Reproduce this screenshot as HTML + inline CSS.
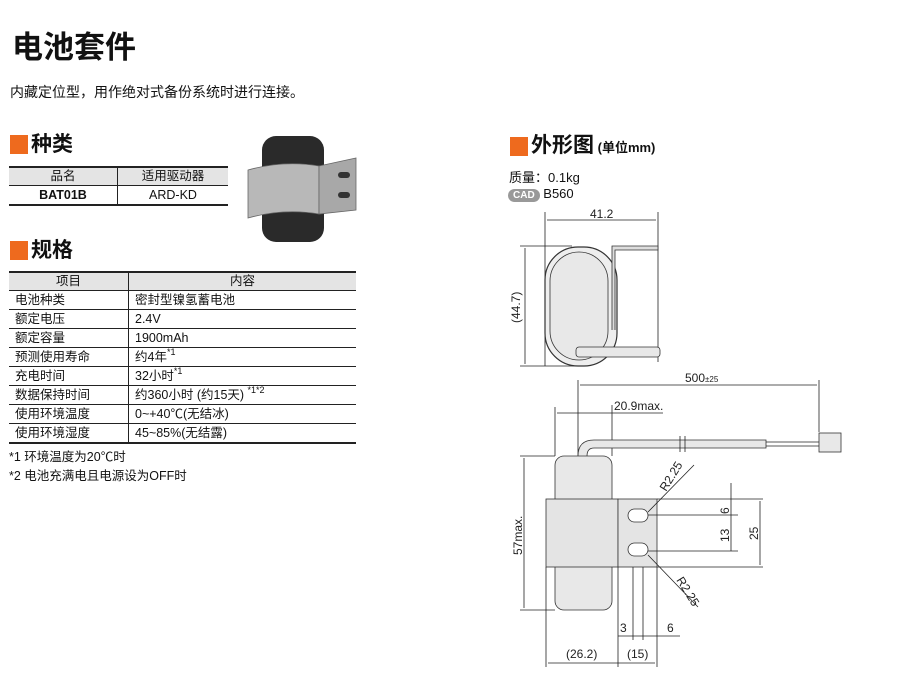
<!DOCTYPE html>
<html><head><meta charset="utf-8"><style>
body{margin:0;width:900px;height:700px;background:#fff;position:relative;font-family:"Liberation Sans","Noto Sans CJK SC",sans-serif;color:#111;overflow:hidden}
.a{position:absolute;white-space:nowrap}
.h{font-size:21px;font-weight:bold;line-height:22px}
.sq{position:absolute;width:18px;height:19px;background:#ee6a1e}
table{position:absolute;border-collapse:collapse;font-size:12.5px}
td{height:18px;padding:0 0 0 6px;line-height:18px;border-bottom:1px solid #222;overflow:hidden}
th{background:#e4e4e4;font-weight:normal;height:17px;line-height:17px;border-bottom:1px solid #222;border-top:2px solid #222;padding:0}
.s{font-size:9px;line-height:0;vertical-align:6px}
</style></head><body>
<div class="a" style="left:12px;top:22px;font-size:31px;font-weight:bold;">电池套件</div>
<div class="a" style="left:10px;top:82px;font-size:14px;">内藏定位型，用作绝对式备份系统时进行连接。</div>

<div class="sq" style="left:10px;top:135px"></div><div class="a h" style="left:31px;top:134px">种类</div>
<table style="left:9px;top:166px;width:219px">
<tr><th style="width:108px;border-right:1px solid #222">品名</th><th>适用驱动器</th></tr>
<tr><td style="text-align:center;font-weight:bold;padding:0;border-right:1px solid #222;border-bottom:2px solid #222">BAT01B</td><td style="text-align:center;padding:0;border-bottom:2px solid #222">ARD-KD</td></tr>
</table>
<svg class="a" style="left:244px;top:132px" width="115" height="115">
<rect x="18" y="4" width="62" height="106" rx="14" fill="#2a2a2a"/>
<path d="M4 38 Q40 28 75 34 L75 82 Q40 76 4 86 Z" fill="#b8b8b8" stroke="#666" stroke-width="0.8"/>
<path d="M75 34 L112 26 L112 78 L75 82Z" fill="#a8a8a8" stroke="#666" stroke-width="0.8"/>
<rect x="94" y="40" width="12" height="6" rx="3" fill="#333"/><rect x="94" y="60" width="12" height="6" rx="3" fill="#333"/>
</svg>

<div class="sq" style="left:10px;top:241px"></div><div class="a h" style="left:31px;top:240px">规格</div>
<table style="left:9px;top:271px;width:347px">
<tr><th style="width:119px;border-right:1px solid #222">项目</th><th>内容</th></tr>
<tr><td style="border-right:1px solid #222">电池种类</td><td>密封型镍氢蓄电池</td></tr>
<tr><td style="border-right:1px solid #222">额定电压</td><td>2.4V</td></tr>
<tr><td style="border-right:1px solid #222">额定容量</td><td>1900mAh</td></tr>
<tr><td style="border-right:1px solid #222">预测使用寿命</td><td>约4年<span class="s">*1</span></td></tr>
<tr><td style="border-right:1px solid #222">充电时间</td><td>32小时<span class="s">*1</span></td></tr>
<tr><td style="border-right:1px solid #222">数据保持时间</td><td>约360小时 (约15天) <span class="s">*1*2</span></td></tr>
<tr><td style="border-right:1px solid #222">使用环境温度</td><td>0~+40℃(无结冰)</td></tr>
<tr><td style="border-right:1px solid #222;border-bottom:2px solid #222">使用环境湿度</td><td style="border-bottom:2px solid #222">45~85%(无结露)</td></tr>
</table>
<div class="a" style="left:9px;top:446px;font-size:12.5px">*1 环境温度为20℃时</div>
<div class="a" style="left:9px;top:465px;font-size:12.5px">*2 电池充满电且电源设为OFF时</div>

<div class="sq" style="left:510px;top:137px"></div><div class="a h" style="left:531px;top:135px">外形图<span style="font-size:13px;font-weight:bold"> (单位mm)</span></div>
<div class="a" style="left:509px;top:167px;font-size:13px">质量：0.1kg</div>
<div class="a" style="left:508px;top:186px;font-size:13px"><span style="display:inline-block;background:#999;color:#fff;font-weight:bold;font-size:10px;border-radius:8px;padding:0 5px;line-height:13px">CAD</span> B560</div>

<svg class="a" style="left:0;top:0" width="900" height="700" font-family="Liberation Sans" font-size="12" fill="none" stroke="#222" stroke-width="0.8">
<line x1="545" y1="212" x2="545" y2="366"/><line x1="658" y1="212" x2="658" y2="362"/>
<line x1="547" y1="220" x2="656" y2="220"/>
<text x="590" y="218" fill="#222" stroke="none">41.2</text>
<line x1="520" y1="246" x2="572" y2="246"/><line x1="520" y1="366" x2="580" y2="366"/>
<line x1="525" y1="248" x2="525" y2="364"/>
<text transform="translate(520,323) rotate(-90)" fill="#222" stroke="none">(44.7)</text>
<rect x="545" y="247" width="72" height="119" rx="33" fill="#eee" stroke="#333" stroke-width="1.2"/>
<rect x="550" y="252" width="58" height="108" rx="29" fill="#e8e8e8" stroke="#333"/>
<path d="M615 330 L615 250 L658 250 L658 246 L612 246 L612 330" fill="#ddd" stroke="#333"/>
<rect x="576" y="347" width="84" height="10" rx="3" fill="#e8e8e8" stroke="#333"/>
<line x1="578" y1="380" x2="578" y2="456"/><line x1="819" y1="380" x2="819" y2="432"/>
<line x1="580" y1="385" x2="817" y2="385"/>
<text x="685" y="382" fill="#222" stroke="none">500<tspan font-size="8">±25</tspan></text>
<line x1="555" y1="407" x2="555" y2="456"/><line x1="612" y1="405" x2="612" y2="456"/>
<line x1="557" y1="413" x2="663" y2="413"/>
<text x="614" y="410" fill="#222" stroke="none">20.9max.</text>
<path d="M578 456 Q578 440 594 440 L766 440 L766 448 L594 448 Q587 448 587 456" fill="#e8e8e8" stroke="#333"/>
<line x1="766" y1="442" x2="819" y2="442"/><line x1="766" y1="446" x2="819" y2="446"/>
<rect x="819" y="433" width="22" height="19" fill="#e8e8e8" stroke="#333"/>
<line x1="680" y1="436" x2="680" y2="452"/><line x1="685" y1="436" x2="685" y2="452"/>
<rect x="555" y="456" width="57" height="154" rx="9" fill="#e8e8e8" stroke="#333"/>
<rect x="546" y="499" width="72" height="68" fill="#e4e4e4" stroke="#333"/>
<rect x="618" y="499" width="39" height="68" fill="#e4e4e4" stroke="#333"/>
<rect x="628" y="509" width="20" height="13" rx="6.5" fill="#fff" stroke="#333"/>
<rect x="628" y="543" width="20" height="13" rx="6.5" fill="#fff" stroke="#333"/>
<line x1="633" y1="567" x2="633" y2="640"/><line x1="643" y1="567" x2="643" y2="640"/>
<line x1="657" y1="499" x2="763" y2="499"/><line x1="657" y1="567" x2="763" y2="567"/>
<line x1="648" y1="515" x2="738" y2="515"/><line x1="648" y1="551" x2="738" y2="551"/>
<line x1="731" y1="483" x2="731" y2="551"/><line x1="760" y1="501" x2="760" y2="565"/>
<text transform="translate(729,514) rotate(-90)" fill="#222" stroke="none">6</text>
<text transform="translate(729,542) rotate(-90)" fill="#222" stroke="none">13</text>
<text transform="translate(758,540) rotate(-90)" fill="#222" stroke="none">25</text>
<line x1="694" y1="465" x2="648" y2="512"/><line x1="648" y1="555" x2="698" y2="607"/>
<text transform="translate(666,492) rotate(-58)" fill="#222" stroke="none">R2.25</text>
<text transform="translate(676,580) rotate(58)" fill="#222" stroke="none">R2.25</text>
<line x1="520" y1="456" x2="555" y2="456"/><line x1="520" y1="610" x2="555" y2="610"/>
<line x1="524" y1="458" x2="524" y2="608"/>
<text transform="translate(522,555) rotate(-90)" fill="#222" stroke="none">57max.</text>
<line x1="546" y1="567" x2="546" y2="667"/><line x1="618" y1="567" x2="618" y2="667"/><line x1="657" y1="567" x2="657" y2="667"/>
<line x1="548" y1="663" x2="655" y2="663"/><line x1="618" y1="636" x2="680" y2="636"/>
<text x="566" y="658" fill="#222" stroke="none">(26.2)</text>
<text x="627" y="658" fill="#222" stroke="none">(15)</text>
<text x="620" y="632" fill="#222" stroke="none">3</text>
<text x="667" y="632" fill="#222" stroke="none">6</text>
</svg>
</body></html>
